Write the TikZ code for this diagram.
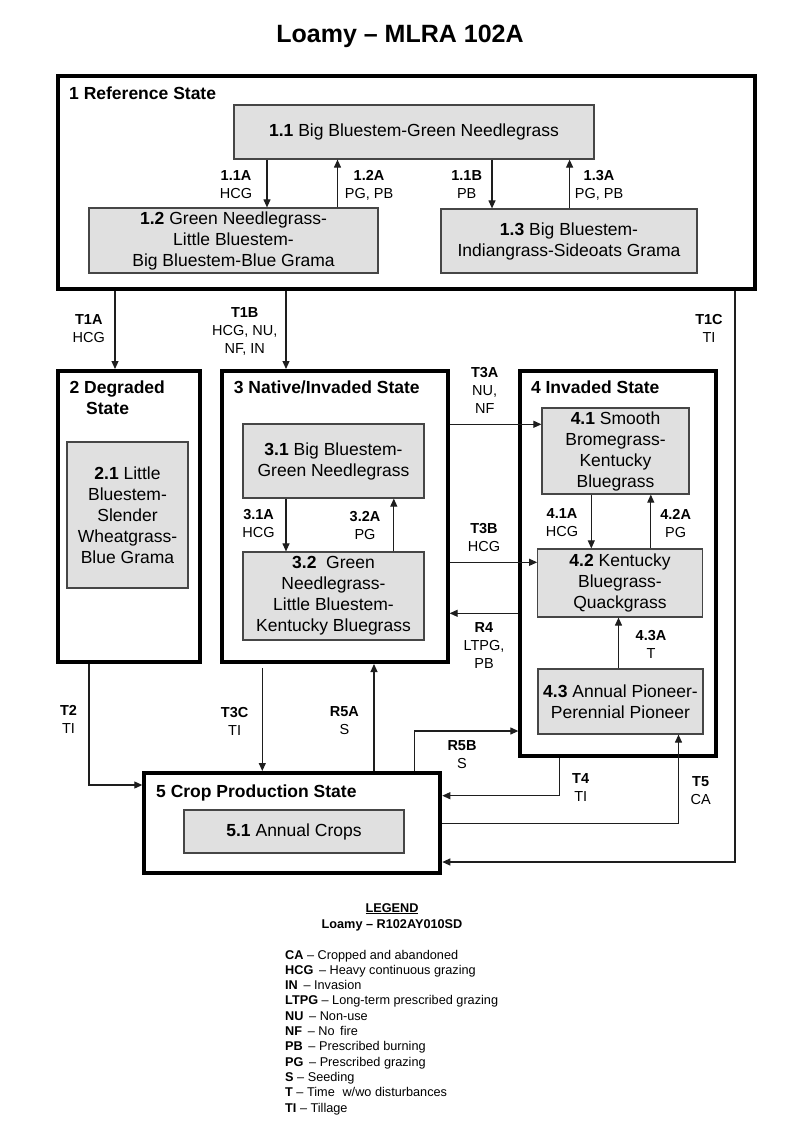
\documentclass[tikz,border=0pt]{standalone}
\usepackage{fontspec}
\setmainfont{Liberation Sans}
\usetikzlibrary{arrows.meta}
\definecolor{boxfill}{RGB}{224,224,224}
\definecolor{boxline}{RGB}{70,70,70}
\definecolor{conn}{RGB}{30,30,30}
\begin{document}
\begin{tikzpicture}[x=1pt,y=-1pt,
  statebox/.style={draw=black, line width=4pt, inner sep=0pt},
  sub/.style={draw=boxline, fill=boxfill, line width=1.2pt, inner sep=2pt, align=center, font=\fontsize{17.5}{21}\selectfont},
  lab/.style={align=center, inner sep=0pt, font=\fontsize{14.5}{18}\selectfont},
  stitle/.style={anchor=base west, inner sep=0pt, font=\fontsize{17.5}{21}\selectfont\bfseries},
  arr/.style={-{Triangle[length=8pt,width=7pt]}, line width=1.1pt, draw=conn},
  leg/.style={anchor=base west, inner sep=0pt, font=\fontsize{12.7}{15}\selectfont}
]
\useasboundingbox[fill=white] (0,0) rectangle (800,1143);

% title
\node[anchor=base, inner sep=0pt, font=\fontsize{25}{30}\selectfont\bfseries] (title) at (400,42) {Loamy – MLRA 102A};

% state boxes
\node[statebox, minimum width=697.5pt, minimum height=213pt] (S1) at (406.25,182.5) {};
\node[statebox, minimum width=142.5pt, minimum height=291pt] (S2) at (128.75,516.5) {};
\node[statebox, minimum width=225.8pt, minimum height=291pt] (S3) at (334.7,516.5) {};
\node[statebox, minimum width=195.3pt, minimum height=385pt] (S4) at (618,563.5) {};
\node[statebox, minimum width=296pt, minimum height=100pt] (S5) at (292.3,823) {};

% state titles
\node[stitle] (t1) at (69,99) {1 Reference State};
\node[stitle] (t2a) at (69.4,393) {2 Degraded};
\node[stitle] (t2b) at (86,414) {State};
\node[stitle] (t3) at (233.7,393) {3 Native/Invaded State};
\node[stitle] (t4) at (530.8,393) {4 Invaded State};
\node[stitle] (t5) at (156,797) {5 Crop Production State};

% community boxes
\node[sub, minimum width=360pt, minimum height=54pt] (b11) at (414,132) {\textbf{1.1} Big Bluestem-Green Needlegrass};
\node[sub, minimum width=289pt, minimum height=65pt] (b12) at (233.5,240.5) {\textbf{1.2} Green Needlegrass-\\Little Bluestem-\\Big Bluestem-Blue Grama};
\node[sub, minimum width=256pt, minimum height=64pt] (b13) at (569,241) {\textbf{1.3} Big Bluestem-\\Indiangrass-Sideoats Grama};
\node[sub, minimum width=121pt, minimum height=146pt] (b21) at (127.5,515) {\textbf{2.1} Little\\Bluestem-\\Slender\\Wheatgrass-\\Blue Grama};
\node[sub, minimum width=181pt, minimum height=74pt] (b31) at (333.5,461) {\textbf{3.1} Big Bluestem-\\Green Needlegrass};
\node[sub, minimum width=181pt, minimum height=88pt] (b32) at (333.5,596) {\textbf{3.2}~ Green\\Needlegrass-\\Little Bluestem-\\Kentucky Bluegrass};
\node[sub, minimum width=147pt, minimum height=86pt] (b41) at (615.5,451) {\textbf{4.1} Smooth\\Bromegrass-\\Kentucky\\Bluegrass};
\node[sub, minimum width=164.5pt, minimum height=68pt] (b42) at (620,583) {\textbf{4.2} Kentucky\\Bluegrass-\\Quackgrass};
\node[sub, minimum width=165pt, minimum height=65pt, inner sep=1pt] (b43) at (620.5,701.5) {\textbf{4.3} Annual Pioneer-\\Perennial Pioneer};
\node[sub, minimum width=220pt, minimum height=43pt] (b51) at (294,831.5) {\textbf{5.1} Annual Crops};

% x / corner coordinates
\coordinate (c11A) at (267,0);
\coordinate (c12A) at (337.5,0);
\coordinate (c11B) at (492,0);
\coordinate (c13A) at (569.6,0);
\coordinate (c31A) at (286,0);
\coordinate (c32A) at (393.8,0);
\coordinate (c41A) at (591.3,0);
\coordinate (c42A) at (650.8,0);
\coordinate (c43A) at (618.5,0);
\coordinate (cT1A) at (115,0);
\coordinate (cT1B) at (286,0);
\coordinate (cT1C) at (735,862);
\coordinate (cT3A) at (0,424.3);
\coordinate (cT3B) at (0,562.3);
\coordinate (cR4) at (0,613.3);
\coordinate (cT2) at (89,785);
\coordinate (cT3C) at (262.3,0);
\coordinate (cR5A) at (374,0);
\coordinate (cR5B) at (414.6,731);
\coordinate (cT4) at (559.5,795.7);
\coordinate (cT5) at (678.5,823.3);

% community pathways
\draw[arr] (b11.south -| c11A) -- (b12.north -| c11A);
\draw[arr] (b12.north -| c12A) -- (b11.south -| c12A);
\draw[arr] (b11.south -| c11B) -- (b13.north -| c11B);
\draw[arr] (b13.north -| c13A) -- (b11.south -| c13A);
\draw[arr] (b31.south -| c31A) -- (b32.north -| c31A);
\draw[arr] (b32.north -| c32A) -- (b31.south -| c32A);
\draw[arr] (b41.south -| c41A) -- (b42.north -| c41A);
\draw[arr] (b42.north -| c42A) -- (b41.south -| c42A);
\draw[arr] (b43.north -| c43A) -- (b42.south -| c43A);

% transitions
\draw[arr] (S1.south -| cT1A) -- (S2.north -| cT1A);
\draw[arr] (S1.south -| cT1B) -- (S3.north -| cT1B);
\draw[arr] (S1.south -| cT1C) -- (cT1C) -- (S5.east |- cT1C);
\draw[arr] (S3.east |- cT3A) -- (b41.west |- cT3A);
\draw[arr] (S3.east |- cT3B) -- (b42.west |- cT3B);
\draw[arr] (S4.west |- cR4) -- (S3.east |- cR4);
\draw[arr] (S2.south -| cT2) -- (cT2) -- (S5.west |- cT2);
\draw[arr, shorten <=4pt] (S3.south -| cT3C) -- (S5.north -| cT3C);
\draw[arr] (S5.north -| cR5A) -- (S3.south -| cR5A);
\draw[arr] (S5.north -| cR5B) -- (cR5B) -- (S4.west |- cR5B);
\draw[arr] (S4.south -| cT4) -- (cT4) -- (S5.east |- cT4);
\draw[arr] (S5.east |- cT5) -- (cT5) -- (b43.south -| cT5);

% labels
\node[lab] (l11A) at (236,185) {\textbf{1.1A}\\HCG};
\node[lab] (l12A) at (369,185) {\textbf{1.2A}\\PG, PB};
\node[lab] (l11B) at (466.7,185) {\textbf{1.1B}\\PB};
\node[lab] (l13A) at (599,185) {\textbf{1.3A}\\PG, PB};
\node[lab] (lT1A) at (88.8,328.5) {\textbf{T1A}\\HCG};
\node[lab] (lT1B) at (244.7,331) {\textbf{T1B}\\HCG, NU,\\NF, IN};
\node[lab] (lT1C) at (709,328.5) {\textbf{T1C}\\TI};
\node[lab] (lT3A) at (484.7,390.5) {\textbf{T3A}\\NU,\\NF};
\node[lab] (lT3B) at (484,538) {\textbf{T3B}\\HCG};
\node[lab] (lR4) at (484,646) {\textbf{R4}\\LTPG,\\PB};
\node[lab] (l31A) at (258.6,524) {\textbf{3.1A}\\HCG};
\node[lab] (l32A) at (365,526) {\textbf{3.2A}\\PG};
\node[lab] (l41A) at (562,523) {\textbf{4.1A}\\HCG};
\node[lab] (l42A) at (675.7,523.5) {\textbf{4.2A}\\PG};
\node[lab] (l43A) at (651,644) {\textbf{4.3A}\\T};
\node[lab] (lT2) at (68.5,719) {\textbf{T2}\\TI};
\node[lab] (lT3C) at (234.6,721.7) {\textbf{T3C}\\TI};
\node[lab] (lR5A) at (344.4,721) {\textbf{R5A}\\S};
\node[lab] (lR5B) at (462,754.5) {\textbf{R5B}\\S};
\node[lab] (lT4) at (580.7,787.5) {\textbf{T4}\\TI};
\node[lab] (lT5) at (700.7,791) {\textbf{T5}\\CA};

% legend
\node[anchor=base, inner sep=0pt, font=\fontsize{12.7}{15}\selectfont\bfseries] (legh) at (392,912) {\underline{LEGEND}};
\node[anchor=base, inner sep=0pt, font=\fontsize{12.7}{15}\selectfont\bfseries] (legs) at (392,928) {Loamy – R102AY010SD};
\node[leg] (g1) at (285,959) {\textbf{CA} – Cropped and abandoned};
\node[leg] (g2) at (285,974.3) {\textbf{HCG} \,– Heavy continuous grazing};
\node[leg] (g3) at (285,989.6) {\textbf{IN} \,– Invasion};
\node[leg] (g4) at (285,1004.9) {\textbf{LTPG} – Long-term prescribed grazing};
\node[leg] (g5) at (285,1020.2) {\textbf{NU} \,– Non-use};
\node[leg] (g6) at (285,1035.5) {\textbf{NF} \,– No\, fire};
\node[leg] (g7) at (285,1050.8) {\textbf{PB} \,– Prescribed burning};
\node[leg] (g8) at (285,1066.1) {\textbf{PG} \,– Prescribed grazing};
\node[leg] (g9) at (285,1081.4) {\textbf{S} – Seeding};
\node[leg] (g10) at (285,1096.7) {\textbf{T} – Time\,\, w/wo disturbances};
\node[leg] (g11) at (285,1112) {\textbf{TI} – Tillage};
\end{tikzpicture}
\end{document}
